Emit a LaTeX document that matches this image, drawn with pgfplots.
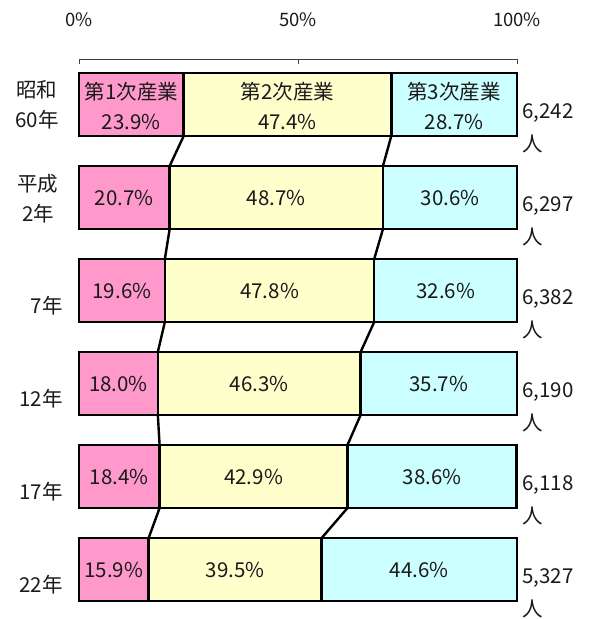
\documentclass[border=0pt]{standalone}
\usepackage{fontspec}
\setmainfont{Noto Sans CJK JP}
\usepackage{pgfplots}
\pgfplotsset{compat=1.18}
\definecolor{pinkc}{HTML}{FF99CC}
\definecolor{yelc}{HTML}{FFFFCC}
\definecolor{cyanc}{HTML}{CCFFFF}
\definecolor{txt}{HTML}{1A1A1A}
\tikzset{lab/.style={text=txt, font=\fontsize{20.5pt}{30pt}\selectfont, inner sep=0pt},
  rlab/.style={text=txt, font=\fontsize{20.5pt}{33pt}\selectfont, inner sep=0pt, align=left, anchor=west},
  tlab/.style={text=txt, font=\fontsize{18.5pt}{22pt}\selectfont, inner sep=0pt}}
\begin{document}
\begin{tikzpicture}[x=1pt,y=1pt]
\path[use as bounding box] (0,0) rectangle (593,619);
\begin{axis}[
  at={(79pt,0pt)}, anchor=south west,
  scale only axis, width=438pt, height=560pt,
  xmin=0, xmax=100, ymin=-619, ymax=-59,
  xbar stacked, bar width=63,
  axis x line*=top, axis y line=none,
  xtick={0,50,100}, xticklabels={},
  tick align=inside, major tick length=5pt,
  tick style={black!75, line width=0.9pt},
  axis line style={black!75, line width=0.9pt},
  ytick=\empty,
  clip=false,
]
\addplot[fill=pinkc, draw=black, line width=2.5pt] coordinates {(23.9,-104.5) (20.7,-197.5) (19.6,-290.5) (18.0,-383.5) (18.4,-476.5) (15.9,-569.5)};
\addplot[fill=yelc, draw=black, line width=2.5pt] coordinates {(47.4,-104.5) (48.7,-197.5) (47.8,-290.5) (46.3,-383.5) (42.9,-476.5) (39.5,-569.5)};
\addplot[fill=cyanc, draw=black, line width=2.5pt] coordinates {(28.7,-104.5) (30.6,-197.5) (32.6,-290.5) (35.7,-383.5) (38.6,-476.5) (44.6,-569.5)};
\end{axis}
\begin{axis}[
  at={(79pt,0pt)}, anchor=south west,
  scale only axis, width=438pt, height=560pt,
  xmin=0, xmax=100, ymin=-619, ymax=-59,
  axis lines=none, clip=false, unbounded coords=jump,
]
\addplot[black, line width=2.4pt] coordinates {(23.9,-136) (20.7,-166) (nan,nan) (20.7,-229) (19.6,-259) (nan,nan) (19.6,-322) (18.0,-352) (nan,nan) (18.0,-415) (18.4,-445) (nan,nan) (18.4,-508) (15.9,-538)};
\addplot[black, line width=2.4pt] coordinates {(71.3,-136) (69.4,-166) (nan,nan) (69.4,-229) (67.4,-259) (nan,nan) (67.4,-322) (64.3,-352) (nan,nan) (64.3,-415) (61.3,-445) (nan,nan) (61.3,-508) (55.4,-538)};
% tick labels
\node[tlab] at (axis cs:0,-20) {0\%};
\node[tlab] at (axis cs:50,-20) {50\%};
\node[tlab] at (axis cs:100,-20) {100\%};
% in-bar labels
\node[lab,align=center] at (axis cs:11.95,-106) {第1次産業\\23.9\%};
\node[lab,align=center] at (axis cs:47.6,-106) {第2次産業\\47.4\%};
\node[lab,align=center] at (axis cs:85.65,-106) {第3次産業\\28.7\%};
\node[lab] at (axis cs:10.35,-198) {20.7\%};
\node[lab] at (axis cs:45.05,-198) {48.7\%};
\node[lab] at (axis cs:84.7,-198) {30.6\%};
\node[lab] at (axis cs:9.8,-291) {19.6\%};
\node[lab] at (axis cs:43.5,-291) {47.8\%};
\node[lab] at (axis cs:83.7,-291) {32.6\%};
\node[lab] at (axis cs:9.0,-384) {18.0\%};
\node[lab] at (axis cs:41.15,-384) {46.3\%};
\node[lab] at (axis cs:82.15,-384) {35.7\%};
\node[lab] at (axis cs:9.2,-477) {18.4\%};
\node[lab] at (axis cs:39.85,-477) {42.9\%};
\node[lab] at (axis cs:80.6,-477) {38.6\%};
\node[lab] at (axis cs:7.95,-570) {15.9\%};
\node[lab] at (axis cs:35.65,-570) {39.5\%};
\node[lab] at (axis cs:77.7,-570) {44.6\%};
% left labels
\node[lab,align=center] at ([xshift=-42pt]axis cs:0,-104.5) {昭和\\60年};
\node[lab,align=center] at ([xshift=-41pt]axis cs:0,-199) {平成\\2年};
\node[lab,anchor=east] at ([xshift=-16pt]axis cs:0,-306) {7年};
\node[lab,anchor=east] at ([xshift=-16pt]axis cs:0,-399) {12年};
\node[lab,anchor=east] at ([xshift=-16pt]axis cs:0,-492) {17年};
\node[lab,anchor=east] at ([xshift=-16pt]axis cs:0,-585) {22年};
% right labels
\node[rlab] at ([xshift=5pt]axis cs:100,-128) {6,242\\人};
\node[rlab] at ([xshift=5pt]axis cs:100,-221) {6,297\\人};
\node[rlab] at ([xshift=5pt]axis cs:100,-314) {6,382\\人};
\node[rlab] at ([xshift=5pt]axis cs:100,-407) {6,190\\人};
\node[rlab] at ([xshift=5pt]axis cs:100,-500) {6,118\\人};
\node[rlab] at ([xshift=5pt]axis cs:100,-593) {5,327\\人};
\end{axis}
\end{tikzpicture}
\end{document}
